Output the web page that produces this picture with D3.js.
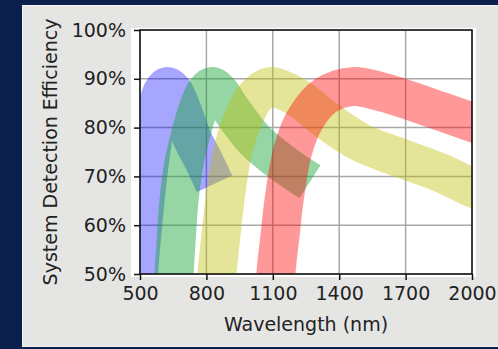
<!DOCTYPE html>
<html>
<head>
<meta charset="utf-8">
<script src="https://cdn.jsdelivr.net/npm/d3@7"></script>
<style>
  html, body { margin: 0; padding: 0; background: #0b1f4c; }
  svg { display: block; }
  text { font-family: "DejaVu Sans", sans-serif; fill: #222; }
</style>
</head>
<body>
<div id="chart"></div>
<script>
// centre lines of the four efficiency bands, [wavelength nm, efficiency %]
var blueBand = [[488,42],[493,50],[508,58],[523,65],[540,72],[555,77],[575,83],[600,87.2],[622,88.4],[650,87.5],[690,83.5],[737,77.7],[790,73],[837,68.5]];
var greenBand = [[648,42],[654,50],[665,58],[676,65],[700,73],[726,78],[760,83.5],[795,87.2],[825,88.4],[860,87.2],[900,84.5],[947,81.5],[1015,77.6],[1141,72.8],[1268,68.9]];
var yellowBand = [[842,42],[848,50],[866,58],[884,65.2],[920,75.4],[974,82.6],[1020,86.3],[1087,88.4],[1150,87.6],[1223,85.8],[1358,81],[1494,77],[1675,73.8],[1855,70.8],[2000,67.7],[2050,66.8]];
var redBand = [[1108,42],[1114,50],[1133,58],[1151,65.2],[1191,75.4],[1245,81.6],[1336,86.5],[1462,88.4],[1584,87.4],[1675,86.2],[1855,83.4],[2000,81.1],[2050,80.3]];

var bandColors = ["#0000ff", "#16a437", "#bfbf00", "#ff0000"];
var bandAlpha = [0.35, 0.45, 0.4, 0.4];

var xTicks = [500, 800, 1100, 1400, 1700, 2000];
var yTicks = [50, 60, 70, 80, 90, 100];

var width = 498;
var height = 349;

var svg = d3.select("#chart")
    .append("svg")
    .attr("width", width)
    .attr("height", height);

// grey slide panel
svg.append("rect")
    .attr("x", 22.5)
    .attr("y", 5.5)
    .attr("width", 480)
    .attr("height", 341)
    .style("fill", "#e5e6e4")
    .style("stroke", "#f4f4f4")
    .style("stroke-width", 1);

// white figure background behind the axes
svg.append("rect")
    .attr("x", 131)
    .attr("y", 28)
    .attr("width", 345)
    .attr("height", 249)
    .style("fill", "#fff");

var x = d3.scaleLinear().domain([500, 2000]).range([140, 472]);
var y = d3.scaleLinear().domain([50, 100]).range([274, 30]);

svg.append("defs")
    .append("clipPath")
    .attr("id", "plot-clip")
    .append("rect")
    .attr("x", 140)
    .attr("y", 30)
    .attr("width", 332)
    .attr("height", 244);

// grid
var grid = svg.append("g").attr("class", "grid");
grid.selectAll("line.gx")
    .data(xTicks)
    .enter()
    .append("line")
    .attr("x1", function (d) { return x(d); })
    .attr("x2", function (d) { return x(d); })
    .attr("y1", 30)
    .attr("y2", 274)
    .style("stroke", "#a8a8a8")
    .style("stroke-width", 1.5);
grid.selectAll("line.gy")
    .data(yTicks)
    .enter()
    .append("line")
    .attr("y1", function (d) { return y(d); })
    .attr("y2", function (d) { return y(d); })
    .attr("x1", 140)
    .attr("x2", 472)
    .style("stroke", "#a8a8a8")
    .style("stroke-width", 1.5);

var line = d3.line()
    .x(function (d) { return x(d[0]); })
    .y(function (d) { return y(d[1]); })
    .curve(d3.curveCatmullRom.alpha(0.5));

var bands = [blueBand, greenBand, yellowBand, redBand];

svg.append("g")
    .attr("clip-path", "url(#plot-clip)")
    .selectAll("path")
    .data(bands)
    .enter()
    .append("path")
    .attr("d", line)
    .style("fill", "none")
    .style("stroke", function (d, i) { return bandColors[i]; })
    .style("stroke-opacity", function (d, i) { return bandAlpha[i]; })
    .style("stroke-width", 39)
    .style("stroke-linecap", "butt")
    .style("stroke-linejoin", "round");

// axes
var xAxis = d3.axisBottom(x).tickValues(xTicks).tickSize(6).tickPadding(7)
    .tickFormat(d3.format("d"));
var yAxis = d3.axisLeft(y).tickValues(yTicks).tickSize(6).tickPadding(8)
    .tickFormat(function (d) { return d + "%"; });

var gx = svg.append("g")
    .attr("transform", "translate(0,274)")
    .call(xAxis);
var gy = svg.append("g")
    .attr("transform", "translate(140,0)")
    .call(yAxis);

[gx, gy].forEach(function (g) {
    g.select(".domain").remove();
    g.selectAll(".tick line").style("stroke", "#111").style("stroke-width", 1.5);
    g.selectAll(".tick text")
        .style("font-size", "19px")
        .style("font-family", "DejaVu Sans, sans-serif")
        .style("fill", "#222");
});

// frame
svg.append("rect")
    .attr("x", 140)
    .attr("y", 30)
    .attr("width", 332)
    .attr("height", 244)
    .style("fill", "none")
    .style("stroke", "#111")
    .style("stroke-width", 1.5);

svg.append("text")
    .attr("x", 306)
    .attr("y", 331)
    .attr("text-anchor", "middle")
    .style("font-size", "19px")
    .text("Wavelength (nm)");

svg.append("text")
    .attr("transform", "translate(57,152) rotate(-90)")
    .attr("text-anchor", "middle")
    .style("font-size", "19px")
    .text("System Detection Efficiency");
</script>
</body>
</html>
